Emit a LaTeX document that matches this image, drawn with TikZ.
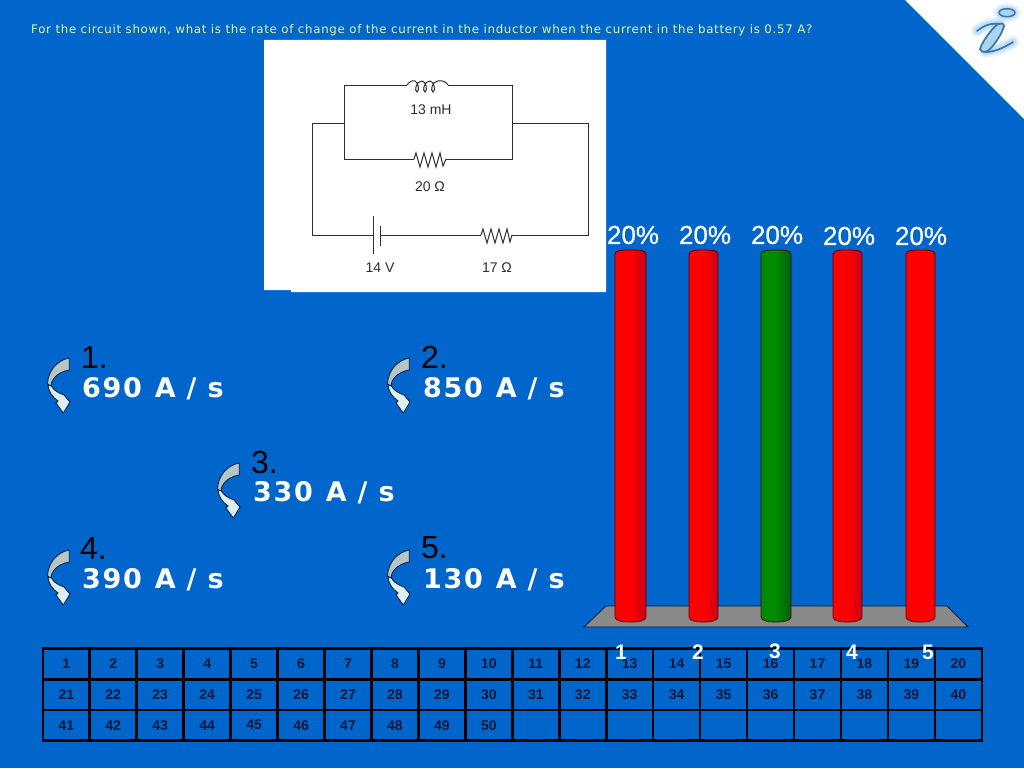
\documentclass[tikz,border=0pt]{standalone}
\usepackage{fontspec}
\setmainfont{Liberation Sans}
\newfontfamily\titlefont[LetterSpace=6]{DejaVu Sans}
\newfontfamily\ansfont[LetterSpace=6]{DejaVu Sans}
\newfontfamily\pctfont[FakeBold=0.5]{Liberation Sans}
\newcommand{\fsz}[1]{\fontsize{#1}{#1}\selectfont}
\definecolor{bg}{HTML}{0066CC}
\definecolor{ink}{HTML}{081838}
\definecolor{wire}{HTML}{2E2E2E}
\definecolor{ttl}{HTML}{E4F59A}
\definecolor{arrA}{HTML}{B4C6C8}
\definecolor{arrB}{HTML}{DCF0F2}
\definecolor{redL}{HTML}{FF0000}
\definecolor{redD}{HTML}{C80018}
\definecolor{grnL}{HTML}{008A00}
\definecolor{grnD}{HTML}{005E12}
\definecolor{logoS}{HTML}{3F72AC}
\definecolor{logoF}{HTML}{A9D6EE}
\definecolor{logoG}{HTML}{8FC8EE}
\tikzset{
  wireline/.style={draw=wire,line width=1pt},
  clabel/.style={text=wire,font=\fsz{14},inner sep=0pt},
  cell/.style={draw=black,line width=2.6pt,minimum width=46.95pt,minimum height=30.6pt,inner sep=0pt,text=ink,font=\bfseries\fsz{14}},
  pct/.style={text=white,font=\pctfont\fsz{26},inner sep=0pt},
  barnum/.style={text=white,font=\bfseries\fsz{21},inner sep=0pt},
  optnum/.style={text=black,font=\fsz{32},inner sep=0pt,anchor=west},
  optval/.style={text=white,font=\ansfont\bfseries\fsz{27},inner sep=0pt,anchor=west},
  barbody/.style={draw=black!65!red,line width=0.8pt},
  pics/curvearrow/.style={code={
    \fill[arrB,draw=ink,line width=0.8pt] (0,27) .. controls (0.5,33) and (4,39) .. (10,43) -- (8,45) -- (15.3,55) -- (22,44) -- (18.5,40) -- (16,37) .. controls (10,35) and (5,32) .. (3,27) -- cycle;
    \fill[arrA,draw=ink,line width=0.8pt] (21.3,0) .. controls (10,2) and (0,12) .. (-0.5,26) -- (3,28) .. controls (3,22) and (9,14) .. (21.3,12) -- cycle;
  }}
}
\begin{document}
\begin{tikzpicture}[x=1pt,y=-1pt]
\useasboundingbox (0,0) rectangle (1024,768);
\fill[bg] (0,0) rectangle (1024,768);
% corner
\fill[white] (905,0) -- (1024,0) -- (1024,119) -- cycle;
% logo glow
\foreach \w/\o in {13/.18,9/.25,6/.3}{
  \draw[logoG,opacity=\o,line width=\w pt,line cap=round] (998,27) -- (985,50);
  \draw[logoG,opacity=\o,line width=\w pt,line cap=round] (977,31) .. controls (985,25) and (990,23) .. (1000,24);
  \draw[logoG,opacity=\o,line width=\w pt,line cap=round] (986,51) .. controls (995,51) and (1005,47) .. (1013,42);
  \draw[logoG,opacity=\o,line width=\w pt] (1007,12.7) ellipse (7pt and 3pt);
}
% logo
\draw[line width=1.7pt,draw=logoS,fill=logoF] (998,24) .. controls (992,28) and (982,42) .. (980,49) .. controls (982,54) and (988,52) .. (991,48) .. controls (996,42) and (1002,34) .. (1004,26) .. controls (1004,23) and (1000,23) .. (998,24) -- cycle;
\draw[line width=1.7pt,draw=logoS,line cap=round] (977,31) .. controls (985,25) and (990,23) .. (1000,24);
\draw[line width=1.7pt,draw=logoS,line cap=round] (986,52) .. controls (995,52) and (1005,47) .. (1013,42);
\draw[line width=1.5pt,draw=logoS,fill=logoF] (1007,12.7) ellipse (8pt and 4pt);
% circuit panel
\fill[white] (264,40) rectangle (606,290) (291,290) rectangle (606,292);
% circuit
\coordinate (jl) at (344,123);
\coordinate (jr) at (512,123);
\coordinate (tl) at (344,85);
\coordinate (tr) at (512,85);
\coordinate (ml) at (344,159);
\coordinate (mr) at (512,159);
\coordinate (ol) at (312,123);
\coordinate (or) at (588,123);
\coordinate (bl) at (312,235);
\coordinate (br) at (588,235);
\coordinate (ind1) at (407,85);
\coordinate (ind2) at (448,85);
\coordinate (ra1) at (414,159);
\coordinate (ra2) at (446,159);
\coordinate (rb1) at (481,235);
\coordinate (rb2) at (512,235);
\coordinate (bat1) at (373,235);
\coordinate (bat2) at (380,235);
\draw[wireline] (ind1) -- (tl) -- (ml) -- (ra1);
\draw[wireline] (ind2) -- (tr) -- (mr) -- (ra2);
\draw[wireline] (jl) -- (ol) -- (bl) -- (bat1);
\draw[wireline] (jr) -- (or) -- (br) -- (rb2);
\draw[wireline] (bat2) -- (rb1);
\draw[wireline] (373,216) -- (373,254);
\draw[wireline] (380,226) -- (380,246);
% inductor
\draw[wireline] (ind1) .. controls (409,82) and (412,80) .. (415,81) .. controls (418,82) and (420,91) .. (417,92) .. controls (414,91) and (416,81) .. (422,81) .. controls (426,81) and (428,91) .. (425,92) .. controls (422,91) and (424,81) .. (430,81) .. controls (434,81) and (436,91) .. (433,92) .. controls (430,91) and (432,81) .. (438,81) .. controls (443,80) and (446,82) .. (ind2);
% resistors
\draw[wireline] (ra1) -- (416,153) -- (420,167) -- (424,153) -- (428,167) -- (432,153) -- (436,167) -- (440,153) -- (443,166) -- (ra2);
\draw[wireline] (rb1) -- (483,229) -- (487,243) -- (491,229) -- (495,243) -- (499,229) -- (503,243) -- (507,229) -- (510,242) -- (rb2);
\node[clabel] (lL) at (431,110) {13 mH};
\node[clabel] (lR1) at (430,187) {20 Ω};
\node[clabel] (lV) at (380,268) {14 V};
\node[clabel] (lR2) at (497,268) {17 Ω};
% title
\node[anchor=west,text=ttl,font=\titlefont\fsz{11.8},inner sep=0pt] (title) at (31,30) {For the circuit shown, what is the rate of change of the current in the inductor when the current in the battery is 0.57 A?};
% options
\pic at (48,358) {curvearrow};
\pic at (388,358) {curvearrow};
\pic at (218,463) {curvearrow};
\pic at (48,550) {curvearrow};
\pic at (388,550) {curvearrow};
\node[optnum] (n1) at (81,357) {1.};
\node[optval] (v1) at (82,389) {690\hspace{13pt}A / s};
\node[optnum] (n2) at (421,357) {2.};
\node[optval] (v2) at (423,389) {850\hspace{13pt}A / s};
\node[optnum] (n3) at (251,462) {3.};
\node[optval] (v3) at (253,493) {330\hspace{13pt}A / s};
\node[optnum] (n4) at (80,548) {4.};
\node[optval] (v4) at (82,580) {390\hspace{13pt}A / s};
\node[optnum] (n5) at (421,548) {5.};
\node[optval] (v5) at (423,580) {130\hspace{13pt}A / s};
% platform
\fill[fill={rgb,255:red,138;green,138;blue,138},draw=ink,line width=0.8pt] (606,606) -- (947,606) -- (968,627) -- (584,627) -- cycle;
% bars
\foreach \xa/\xb/\cl/\cd in {615/646/redL/redD,689/718/redL/redD,761/791/grnL/grnD,833/862/redL/redD,906/935/redL/redL}{
  \draw[barbody,left color=\cl,right color=\cd,middle color=\cl]
    (\xa,254) .. controls (\xa,250) and (\xa+8,250) .. ({(\xa+\xb)/2},250) .. controls (\xb-8,250) and (\xb,250) .. (\xb,254)
    -- (\xb,617) .. controls (\xb,621) and (\xb-8,622) .. ({(\xa+\xb)/2},622) .. controls (\xa+8,622) and (\xa,621) .. (\xa,617) -- cycle;
}
\node[pct] (p1) at (633,235) {20\%};
\node[pct] (p2) at (705,235) {20\%};
\node[pct] (p3) at (777,235) {20\%};
\node[pct] (p4) at (849,236) {20\%};
\node[pct] (p5) at (921,236) {20\%};
% grid
\foreach \r in {0,1,2}{
  \foreach \c in {0,...,19}{
    \pgfmathtruncatemacro{\num}{\r*20+\c+1}
    \pgfmathsetmacro{\cx}{66.3+46.95*\c}
    \pgfmathsetmacro{\cy}{664+30.6*\r}
    \ifnum\num>50
      \node[cell] (c\num) at (\cx,\cy) {};
    \else
      \node[cell] (c\num) at (\cx,\cy) {\num};
    \fi
  }
}
\node[barnum] (b1) at (621,652) {1};
\node[barnum] (b2) at (698,652) {2};
\node[barnum] (b3) at (775,651) {3};
\node[barnum] (b4) at (852,652) {4};
\node[barnum] (b5) at (928,652) {5};
\end{tikzpicture}
\end{document}
